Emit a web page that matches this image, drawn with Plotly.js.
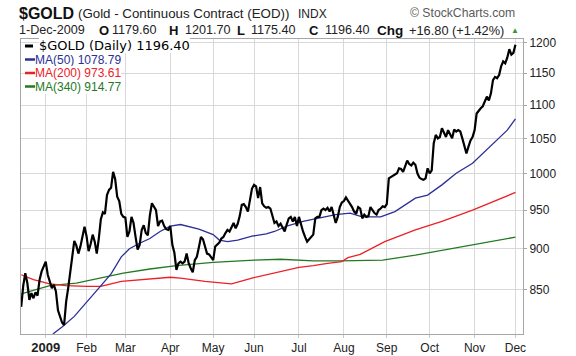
<!DOCTYPE html>
<html><head><meta charset="utf-8">
<script src="https://cdn.plot.ly/plotly-3.0.1.min.js"></script>
<style>html,body{margin:0;padding:0;background:#fff;} #chart{width:576px;height:356px;}</style>
</head><body><div id="chart"></div>
<script>
// Trading days (x categories)
const dates = [
'2008-12-15','2008-12-16','2008-12-17','2008-12-18','2008-12-19','2008-12-22','2008-12-23','2008-12-24','2008-12-26','2008-12-29','2008-12-30','2008-12-31',
'2009-01-02','2009-01-05','2009-01-06','2009-01-07','2009-01-08','2009-01-09','2009-01-12','2009-01-13','2009-01-14','2009-01-15','2009-01-16','2009-01-20','2009-01-21','2009-01-22','2009-01-23','2009-01-26','2009-01-27','2009-01-28','2009-01-29','2009-01-30',
'2009-02-02','2009-02-03','2009-02-04','2009-02-05','2009-02-06','2009-02-09','2009-02-10','2009-02-11','2009-02-12','2009-02-13','2009-02-17','2009-02-18','2009-02-19','2009-02-20','2009-02-23','2009-02-24','2009-02-25','2009-02-26','2009-02-27',
'2009-03-02','2009-03-03','2009-03-04','2009-03-05','2009-03-06','2009-03-09','2009-03-10','2009-03-11','2009-03-12','2009-03-13','2009-03-16','2009-03-17','2009-03-18','2009-03-19','2009-03-20','2009-03-23','2009-03-24','2009-03-25','2009-03-26','2009-03-27','2009-03-30','2009-03-31',
'2009-04-01','2009-04-02','2009-04-03','2009-04-06','2009-04-07','2009-04-08','2009-04-09','2009-04-13','2009-04-14','2009-04-15','2009-04-16','2009-04-17','2009-04-20','2009-04-21','2009-04-22','2009-04-23','2009-04-24','2009-04-27','2009-04-28','2009-04-29','2009-04-30',
'2009-05-01','2009-05-04','2009-05-05','2009-05-06','2009-05-07','2009-05-08','2009-05-11','2009-05-12','2009-05-13','2009-05-14','2009-05-15','2009-05-18','2009-05-19','2009-05-20','2009-05-21','2009-05-22','2009-05-26','2009-05-27','2009-05-28','2009-05-29',
'2009-06-01','2009-06-02','2009-06-03','2009-06-04','2009-06-05','2009-06-08','2009-06-09','2009-06-10','2009-06-11','2009-06-12','2009-06-15','2009-06-16','2009-06-17','2009-06-18','2009-06-19','2009-06-22','2009-06-23','2009-06-24','2009-06-25','2009-06-26','2009-06-29','2009-06-30',
'2009-07-01','2009-07-02','2009-07-06','2009-07-07','2009-07-08','2009-07-09','2009-07-10','2009-07-13','2009-07-14','2009-07-15','2009-07-16','2009-07-17','2009-07-20','2009-07-21','2009-07-22','2009-07-23','2009-07-24','2009-07-27','2009-07-28','2009-07-29','2009-07-30','2009-07-31',
'2009-08-03','2009-08-04','2009-08-05','2009-08-06','2009-08-07','2009-08-10','2009-08-11','2009-08-12','2009-08-13','2009-08-14','2009-08-17','2009-08-18','2009-08-19','2009-08-20','2009-08-21','2009-08-24','2009-08-25','2009-08-26','2009-08-27','2009-08-28','2009-08-31',
'2009-09-01','2009-09-02','2009-09-03','2009-09-04','2009-09-08','2009-09-09','2009-09-10','2009-09-11','2009-09-14','2009-09-15','2009-09-16','2009-09-17','2009-09-18','2009-09-21','2009-09-22','2009-09-23','2009-09-24','2009-09-25','2009-09-28','2009-09-29','2009-09-30',
'2009-10-01','2009-10-02','2009-10-05','2009-10-06','2009-10-07','2009-10-08','2009-10-09','2009-10-12','2009-10-13','2009-10-14','2009-10-15','2009-10-16','2009-10-19','2009-10-20','2009-10-21','2009-10-22','2009-10-23','2009-10-26','2009-10-27','2009-10-28','2009-10-29','2009-10-30',
'2009-11-02','2009-11-03','2009-11-04','2009-11-05','2009-11-06','2009-11-09','2009-11-10','2009-11-11','2009-11-12','2009-11-13','2009-11-16','2009-11-17','2009-11-18','2009-11-19','2009-11-20','2009-11-23','2009-11-24','2009-11-25','2009-11-27','2009-11-30',
'2009-12-01'];

// $GOLD daily close
const goldClose = [
830,855,870,858,838,846,840,847,843,862,872,877,
884,868,860,852,856,848,826,820,812,809,836,852,870,885,910,904,894,903,915,928,
916,897,906,918,909,894,913,938,947,945,970,977,980,1002,992,968,962,945,941,
940,915,922,941,933,915,899,905,924,930,920,917,943,959,954,950,929,935,936,929,925,924,
929,905,895,874,882,884,882,884,894,882,876,871,886,890,902,915,912,902,894,893,890,
886,903,905,908,913,915,920,924,922,928,933,926,932,942,957,958,954,948,962,979,
984,982,966,981,959,955,953,954,952,942,933,935,929,932,926,922,931,939,941,935,941,929,
941,930,922,915,909,912,915,918,939,941,941,950,952,950,953,948,954,945,933,941,954,960,
962,967,963,958,954,948,945,954,952,939,944,941,942,954,950,946,944,950,952,955,954,
958,993,995,996,998,1000,1007,1006,1002,1010,1018,1013,1011,1015,1012,1000,994,992,991,993,1007,
1000,1004,1043,1055,1050,1052,1065,1058,1052,1062,1057,1050,1063,1060,1062,1060,1050,1040,1028,1038,1047,1052,
1062,1087,1092,1095,1098,1105,1113,1107,1118,1139,1144,1142,1147,1161,1169,1166,1175,1189,1180,1183,
1196.4];

// MA(50)
const ma50Dates = ['2008-12-31','2009-01-08','2009-01-14','2009-01-23','2009-02-10','2009-02-19','2009-02-26','2009-03-04','2009-03-11','2009-03-18','2009-03-25','2009-04-01','2009-04-08','2009-04-16','2009-04-22','2009-05-01','2009-05-06','2009-05-12','2009-05-19','2009-05-29','2009-06-09','2009-06-15','2009-06-23','2009-07-06','2009-07-20','2009-07-28','2009-08-06','2009-08-14','2009-08-27','2009-09-08','2009-09-22','2009-09-30','2009-10-09','2009-10-20','2009-10-30','2009-11-10','2009-11-18','2009-11-24','2009-12-01'];
const ma50 = [786,800,807,819,852,869,890,900,907,913,922,929,931,928,925,918,911,909,911,916,919,922,929,935,941,944,946,941,941,948,966,970,984,1000,1014,1034,1050,1062,1078.79];

// MA(200)
const ma200Dates = ['2008-12-15','2008-12-23','2009-01-06','2009-01-16','2009-02-02','2009-02-11','2009-02-26','2009-03-11','2009-04-01','2009-04-08','2009-04-16','2009-04-27','2009-05-08','2009-05-14','2009-05-29','2009-06-09','2009-06-15','2009-06-23','2009-07-01','2009-07-13','2009-07-22','2009-07-31','2009-08-05','2009-08-13','2009-08-31','2009-09-22','2009-10-09','2009-10-30','2009-12-01'];
const ma200 = [868,862,857,855,854,854,860,862,865,864,862,860,858,857,864,868,870,874,877,879,882,884,889,893,909,924,935,950,973.61];

// MA(340)
const ma340Dates = ['2008-12-15','2009-01-06','2009-01-26','2009-02-11','2009-02-27','2009-03-18','2009-04-06','2009-05-01','2009-06-01','2009-06-18','2009-07-09','2009-07-13','2009-07-30','2009-08-28','2009-09-22','2009-10-09','2009-10-30','2009-12-01'];
const ma340 = [845,855,858,864,870,875,879,883,886,887,886,885,885,886,892,898,905,914.77];

const monthTickDates = ['2009-01-02','2009-02-02','2009-03-02','2009-04-01','2009-05-01','2009-06-01','2009-07-01','2009-08-03','2009-09-01','2009-10-01','2009-11-02','2009-12-01'];
const monthTickLabels = ['<b><span style="font-size:13px">2009</span></b>','Feb','Mar','Apr','May','Jun','Jul','Aug','Sep','Oct','Nov','Dec'];
const yTicks = [850,900,950,1000,1050,1100,1150,1200];

const C_BLUE = '#2c2f95', C_RED = '#ec2027', C_GREEN = '#237a23';

// plot-area pixel frame
const L = 21, R = 523, T = 39, B = 334;
const X = p => (p - L) / (R - L);
const Y = p => (B - p) / (B - T);

const traces = [
  {x: ma340Dates, y: ma340, type: 'scatter', mode: 'lines', line: {color: C_GREEN, width: 1.3}, hoverinfo: 'skip'},
  {x: ma200Dates, y: ma200, type: 'scatter', mode: 'lines', line: {color: C_RED, width: 1.3}, hoverinfo: 'skip'},
  {x: ma50Dates, y: ma50, type: 'scatter', mode: 'lines', line: {color: C_BLUE, width: 1.3}, hoverinfo: 'skip'},
  {x: dates, y: goldClose, type: 'scatter', mode: 'lines', line: {color: '#000', width: 2.2}, hoverinfo: 'skip'}
];

function ann(text, x, y, size, color, opts) {
  return Object.assign({text: text, x: X(x), y: Y(y), xref: 'paper', yref: 'paper',
    xanchor: 'left', yanchor: 'middle', showarrow: false, borderpad: 0, borderwidth: 0,
    font: {family: 'Liberation Sans, Arial, sans-serif', size: size, color: color}}, opts || {});
}

const annotations = [
  ann('<b>$GOLD</b>', 19, 13, 16, '#111'),
  ann('(Gold - Continuous Contract (EOD))', 78, 13.5, 13.3, '#222'),
  ann('INDX', 298, 14, 12, '#222'),
  ann('© StockCharts.com', 410, 13.5, 12.2, '#5a5a5a'),
  ann('1-Dec-2009', 19, 30, 12.6, '#222'),
  ann('<b>O</b>', 99, 30, 13, '#111'),
  ann('1179.60', 112, 30, 12.6, '#222'),
  ann('<b>H</b>', 169, 30, 13, '#111'),
  ann('1201.70', 185, 30, 12.6, '#222'),
  ann('<b>L</b>', 237, 30, 13, '#111'),
  ann('1175.40', 251, 30, 12.6, '#222'),
  ann('<b>C</b>', 309, 30, 13, '#111'),
  ann('1196.40', 325, 30, 12.6, '#222'),
  ann('<b>Chg</b>', 377, 30, 13.5, '#111'),
  ann('+16.80 (+1.42%)', 409, 30, 12.8, '#222'),
  ann('▲', 511, 30, 8, '#2e9a3a'),
  ann('$GOLD (Daily) 1196.40', 39, 46, 13, '#000', {font: {family: 'DejaVu Sans, sans-serif', size: 13, color: '#000'}, bgcolor: '#fff'}),
  ann('MA(50) 1078.79', 35, 59.5, 12, C_BLUE, {bgcolor: '#fff'}),
  ann('MA(200) 973.61', 35, 73, 12, C_RED, {bgcolor: '#fff'}),
  ann('MA(340) 914.77', 35, 86.5, 12, C_GREEN, {bgcolor: '#fff'})
];

const shapes = [
  {type: 'line', xref: 'paper', yref: 'paper', x0: X(25), x1: X(33), y0: Y(46), y1: Y(46), line: {color: '#000', width: 3}},
  {type: 'line', xref: 'paper', yref: 'paper', x0: X(25), x1: X(35), y0: Y(59.5), y1: Y(59.5), line: {color: C_BLUE, width: 2.5}},
  {type: 'line', xref: 'paper', yref: 'paper', x0: X(25), x1: X(35), y0: Y(73), y1: Y(73), line: {color: C_RED, width: 2.5}},
  {type: 'line', xref: 'paper', yref: 'paper', x0: X(25), x1: X(35), y0: Y(86.5), y1: Y(86.5), line: {color: C_GREEN, width: 2.5}}
];

const layout = {
  width: 576, height: 356,
  margin: {l: L, r: 576 - R, t: T, b: 356 - B, pad: 0},
  paper_bgcolor: '#fff', plot_bgcolor: '#fff',
  showlegend: false,
  xaxis: {
    type: 'category', categoryorder: 'array', categoryarray: dates,
    range: [-0.1, 245.7],
    tickmode: 'array', tickvals: monthTickDates, ticktext: monthTickLabels,
    showgrid: true, gridcolor: '#d9d9d9', gridwidth: 1,
    showline: true, mirror: true, linecolor: '#a6a6a6', linewidth: 1,
    ticks: 'outside', ticklen: 3, tickcolor: '#c8c8c8',
    tickfont: {family: 'Liberation Sans, Arial, sans-serif', size: 12, color: '#222'},
    zeroline: false, fixedrange: true
  },
  yaxis: {
    type: 'log', range: [2.90261, 3.08139], side: 'right',
    tickmode: 'array', tickvals: yTicks, ticktext: yTicks.map(String),
    showgrid: true, gridcolor: '#d9d9d9', gridwidth: 1,
    showline: true, mirror: true, linecolor: '#a6a6a6', linewidth: 1,
    ticks: 'outside', ticklen: 3, tickcolor: '#a6a6a6',
    tickfont: {family: 'Liberation Sans, Arial, sans-serif', size: 12, color: '#222'},
    zeroline: false, fixedrange: true
  },
  annotations: annotations,
  shapes: shapes
};

Plotly.newPlot('chart', traces, layout, {staticPlot: true, displayModeBar: false});
</script>
</body></html>
